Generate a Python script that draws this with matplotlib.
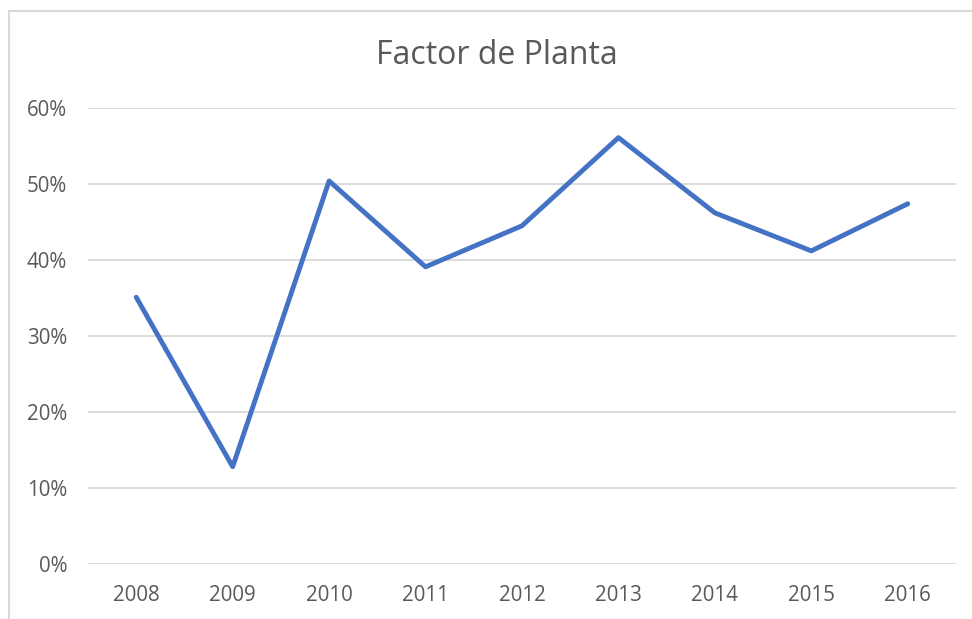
import matplotlib
matplotlib.use("Agg")
import matplotlib.pyplot as plt
from matplotlib.patches import Rectangle
from matplotlib.ticker import PercentFormatter

years = ["2008", "2009", "2010", "2011", "2012", "2013", "2014", "2015", "2016"]
factor = [0.351, 0.128, 0.504, 0.391, 0.445, 0.561, 0.462, 0.412, 0.474]
yticks = [0.0, 0.1, 0.2, 0.3, 0.4, 0.5, 0.6]

plt.rcParams['font.family'] = ['Open Sans', 'DejaVu Sans']

W, H = 972, 619
fig = plt.figure(figsize=(W/100, H/100), dpi=100)
fig.patch.set_facecolor('white')

# outer chart border (cut off at right/bottom)
fig.patches.append(Rectangle((9/W, -0.1), 1.2, (H-11)/H + 0.1, transform=fig.transFigure,
                             fill=False, edgecolor='#d9d9d9', linewidth=1.5))

ax = fig.add_axes([88/W, (H-564)/H, (956-88)/W, (564-108)/H])
x = list(range(len(years)))
ax.plot(x, factor, color='#4472C4', linewidth=3.5, solid_joinstyle='round', solid_capstyle='round', zorder=3)
ax.set_xlim(-0.5, len(years)-0.5)
ax.set_ylim(0, 0.6)
ax.set_yticks(yticks)
ax.yaxis.set_major_formatter(PercentFormatter(1.0, decimals=0))
ax.set_xticks(x)
ax.set_xticklabels(years)
ax.grid(axis='y', color='#d9d9d9', linewidth=1.3)
ax.set_axisbelow(True)
for s in ax.spines.values():
    s.set_visible(False)
ax.tick_params(axis='both', length=0, labelcolor='#595959', labelsize=14.8)
ax.tick_params(axis='y', pad=15)
ax.tick_params(axis='x', pad=15)

fig.text(497/W, (H-55)/H, "Factor de Planta", ha='center', va='center', fontsize=23, color='#595959')

fig.savefig("out.png", dpi=100)
